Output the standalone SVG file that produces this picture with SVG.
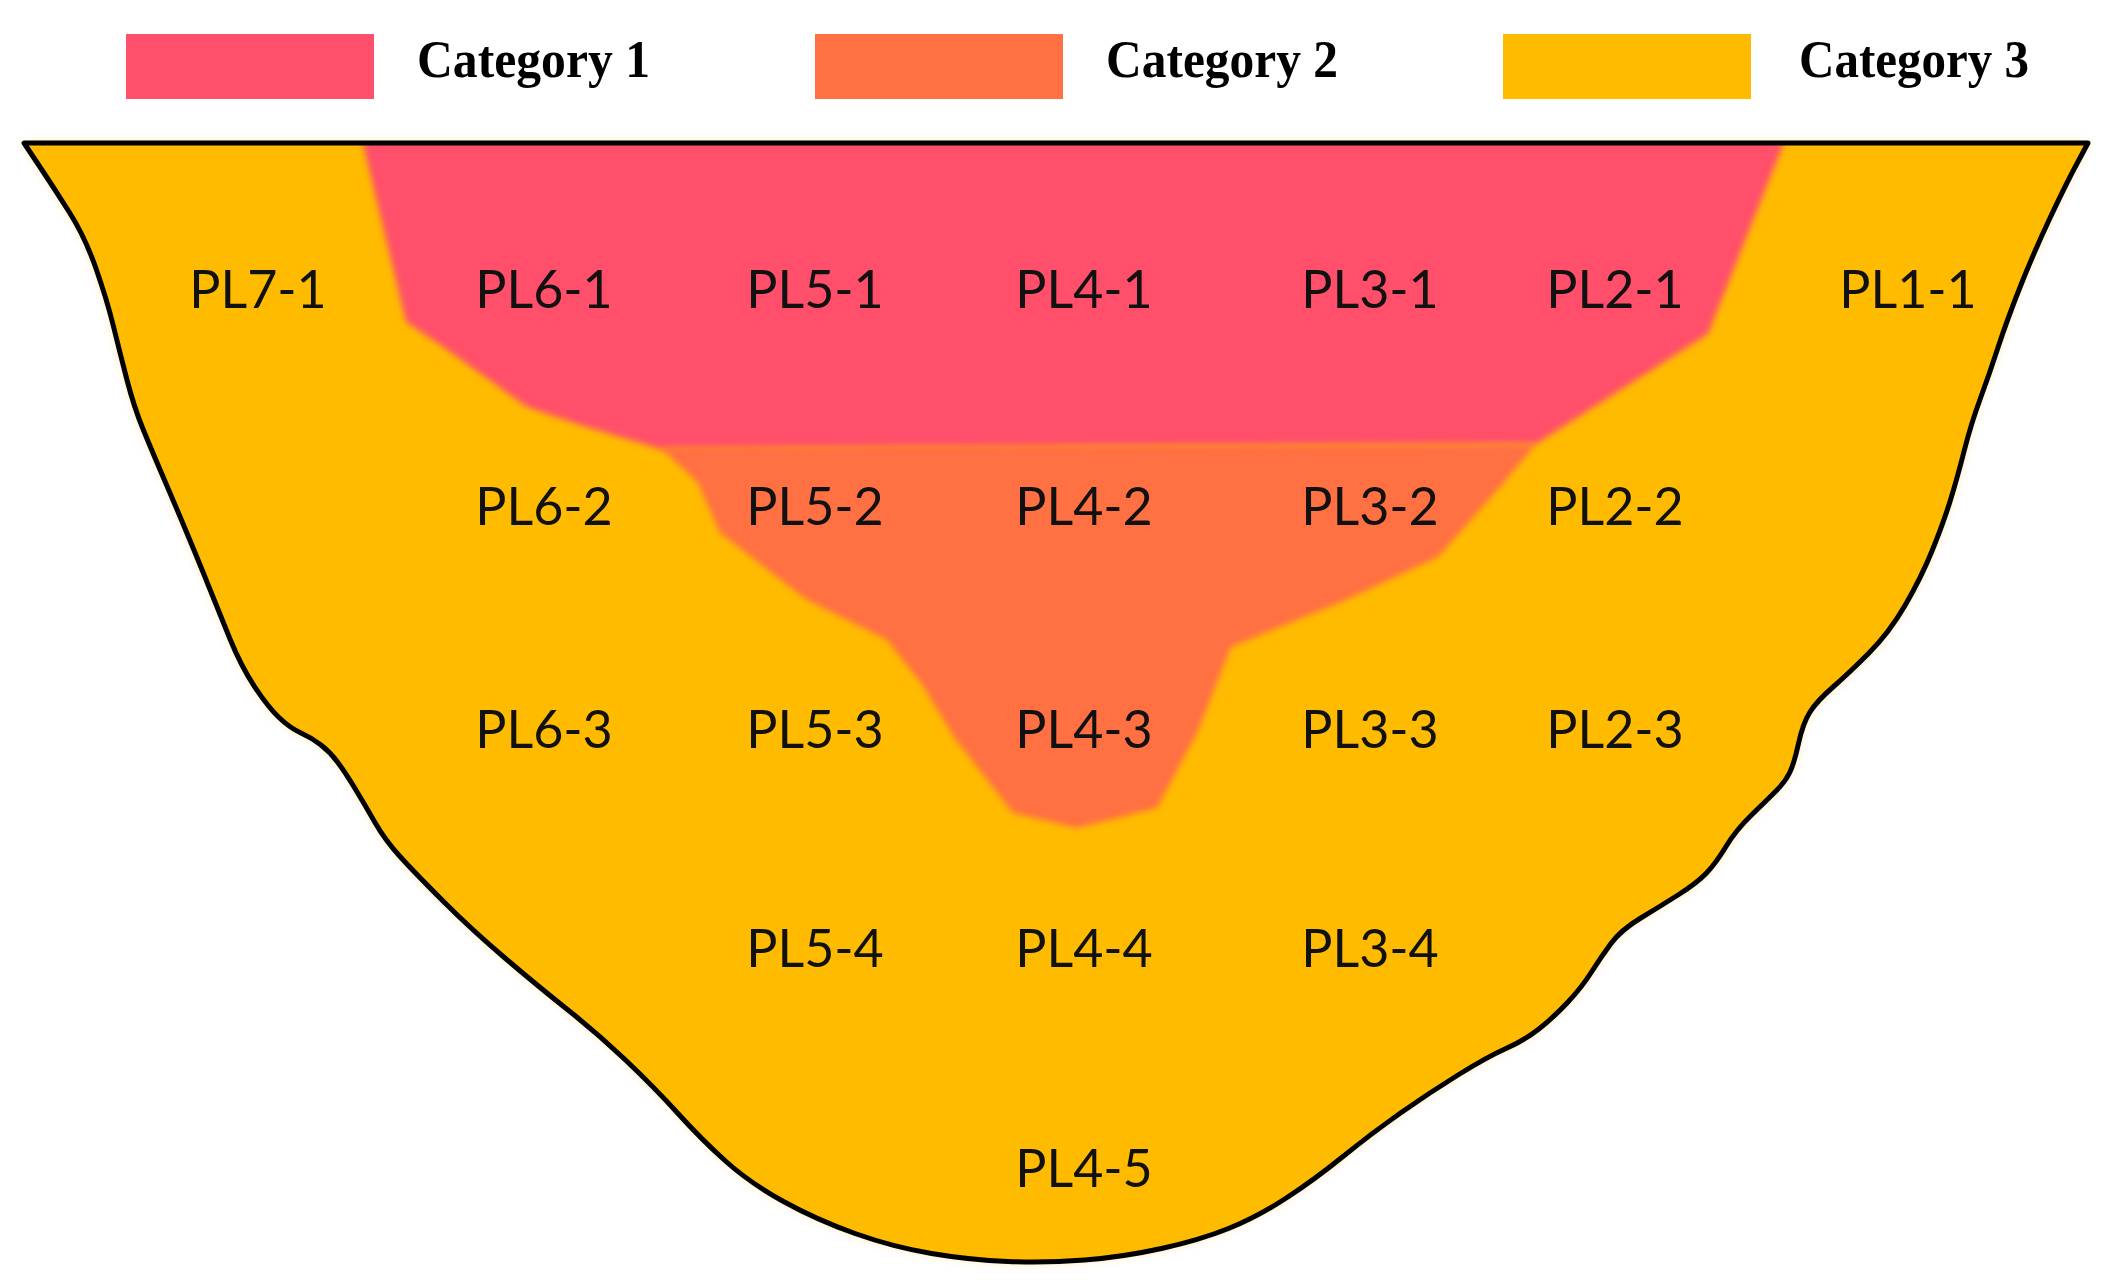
<svg xmlns="http://www.w3.org/2000/svg" width="2110" height="1288" viewBox="0 0 2110 1288">
  <style>
    .lbl { font-family: Lato, "Open Sans", sans-serif; font-size: 52px; fill: #111; text-anchor: middle; }
    .leg { font-family: "Liberation Serif", "Times New Roman", serif; font-size: 53px; font-weight: bold; fill: #000; }
    .c1 { fill: #FF4F6B; }
    .c2 { fill: #FF7043; }
    .c3 { fill: #FFBB00; }
  </style>
  <defs>
    <path id="outline" d="M24,143 L2088,143 L2077,163.5 Q2066,184 2050,218 Q2034,252 2020.5,286 Q2007,320 1998,347.5 Q1989,375 1980,399.5 Q1971,424 1964,451.5 Q1957,479 1950,501.5 Q1943,524 1932,551 Q1921,578 1905,605.5 Q1889,633 1868.5,653.5 Q1848,674 1832.5,687.5 Q1817,701 1810,712 Q1803,723 1798.5,743.5 Q1794,764 1789.5,773 Q1785,782 1776,791 Q1767,800 1751.5,815 Q1736,830 1726,846.5 Q1716,863 1706.5,873 Q1697,883 1678,895 Q1659,907 1640,918.5 Q1621,930 1611,943.5 Q1601,957 1591.5,972 Q1582,987 1568,1002 Q1554,1017 1539.5,1028.5 Q1525,1040 1506,1048.5 Q1487,1057 1458,1075 Q1429,1093 1400.5,1113 Q1372,1133 1343,1156.5 Q1314,1180 1285.5,1198.5 Q1257,1217 1228.5,1228.5 Q1200,1240 1161.5,1248.5 Q1123,1257 1084.5,1260 Q1046,1263 1008,1261.5 Q970,1260 931.5,1253.5 Q893,1247 855,1233.5 Q817,1220 783.5,1201.5 Q750,1183 726,1161.5 Q702,1140 678,1113.5 Q654,1087 625.5,1060 Q597,1033 568,1010 Q539,987 505.5,958.5 Q472,930 443.5,901.5 Q415,873 400,856.5 Q385,840 375,822.5 Q365,805 355,788.5 Q345,772 337.5,762 Q330,752 321,745 Q312,738 301,733 Q290,728 279,717.5 Q268,707 254.5,686.5 Q241,666 230,639 Q219,612 210,589.5 Q201,567 190,540.5 Q179,514 165.5,482.5 Q152,451 143,429 Q134,407 127,380 Q120,353 113.5,326.5 Q107,300 96,268.5 Q85,237 69.5,212.5 Q54,188 39,165.5 L24,143 Z"/>
    <clipPath id="clip"><use href="#outline"/></clipPath>
    <filter id="soft" x="-5%" y="-5%" width="110%" height="110%"><feGaussianBlur stdDeviation="3"/></filter>
    <filter id="glow" x="-5%" y="-5%" width="110%" height="110%"><feGaussianBlur stdDeviation="5"/></filter>
  </defs>

  <g id="legend">
    <g id="legend-cat1">
      <rect class="c1" x="126" y="34" width="248" height="65"/>
      <text class="leg" x="417" y="77" textLength="233" lengthAdjust="spacingAndGlyphs">Category 1</text>
    </g>
    <g id="legend-cat2">
      <rect class="c2" x="815" y="34" width="248" height="65"/>
      <text class="leg" x="1106" y="77" textLength="232" lengthAdjust="spacingAndGlyphs">Category 2</text>
    </g>
    <g id="legend-cat3">
      <rect class="c3" x="1503" y="34" width="248" height="65"/>
      <text class="leg" x="1799" y="77" textLength="230" lengthAdjust="spacingAndGlyphs">Category 3</text>
    </g>
  </g>

  <g id="section">
    <use href="#outline" fill="#FFC53A" opacity="0.55" filter="url(#glow)"/>
    <use href="#outline" class="c3"/>
    <g clip-path="url(#clip)">
      <polygon id="zone-cat1" class="c1" filter="url(#soft)" points="362,140 1785,140 1708,334 1536,444 660,449 580,425 527,407 446,349 406,322"/>
      <polygon id="zone-cat2" class="c2" filter="url(#soft)" points="660,447 1536,444 1500,487 1438,557 1346,600 1231,647 1197,733 1157,808 1077,828 1013,813 956,740 921,683 887,640 807,600 720,533 698,483"/>
    </g>
    <use href="#outline" fill="none" stroke="#000" stroke-width="5" stroke-linejoin="round"/>
  </g>

  <g id="labels">
    <g id="PL7-1"><text class="lbl" x="258" y="308">PL7-1</text></g>
    <g id="PL6-1"><text class="lbl" x="544" y="308">PL6-1</text></g>
    <g id="PL5-1"><text class="lbl" x="815" y="308">PL5-1</text></g>
    <g id="PL4-1"><text class="lbl" x="1084" y="308">PL4-1</text></g>
    <g id="PL3-1"><text class="lbl" x="1370" y="308">PL3-1</text></g>
    <g id="PL2-1"><text class="lbl" x="1615" y="308">PL2-1</text></g>
    <g id="PL1-1"><text class="lbl" x="1908" y="308">PL1-1</text></g>

    <g id="PL6-2"><text class="lbl" x="544" y="525">PL6-2</text></g>
    <g id="PL5-2"><text class="lbl" x="815" y="525">PL5-2</text></g>
    <g id="PL4-2"><text class="lbl" x="1084" y="525">PL4-2</text></g>
    <g id="PL3-2"><text class="lbl" x="1370" y="525">PL3-2</text></g>
    <g id="PL2-2"><text class="lbl" x="1615" y="525">PL2-2</text></g>

    <g id="PL6-3"><text class="lbl" x="544" y="748">PL6-3</text></g>
    <g id="PL5-3"><text class="lbl" x="815" y="748">PL5-3</text></g>
    <g id="PL4-3"><text class="lbl" x="1084" y="748">PL4-3</text></g>
    <g id="PL3-3"><text class="lbl" x="1370" y="748">PL3-3</text></g>
    <g id="PL2-3"><text class="lbl" x="1615" y="748">PL2-3</text></g>

    <g id="PL5-4"><text class="lbl" x="815" y="967">PL5-4</text></g>
    <g id="PL4-4"><text class="lbl" x="1084" y="967">PL4-4</text></g>
    <g id="PL3-4"><text class="lbl" x="1370" y="967">PL3-4</text></g>

    <g id="PL4-5"><text class="lbl" x="1084" y="1187">PL4-5</text></g>
  </g>
</svg>
